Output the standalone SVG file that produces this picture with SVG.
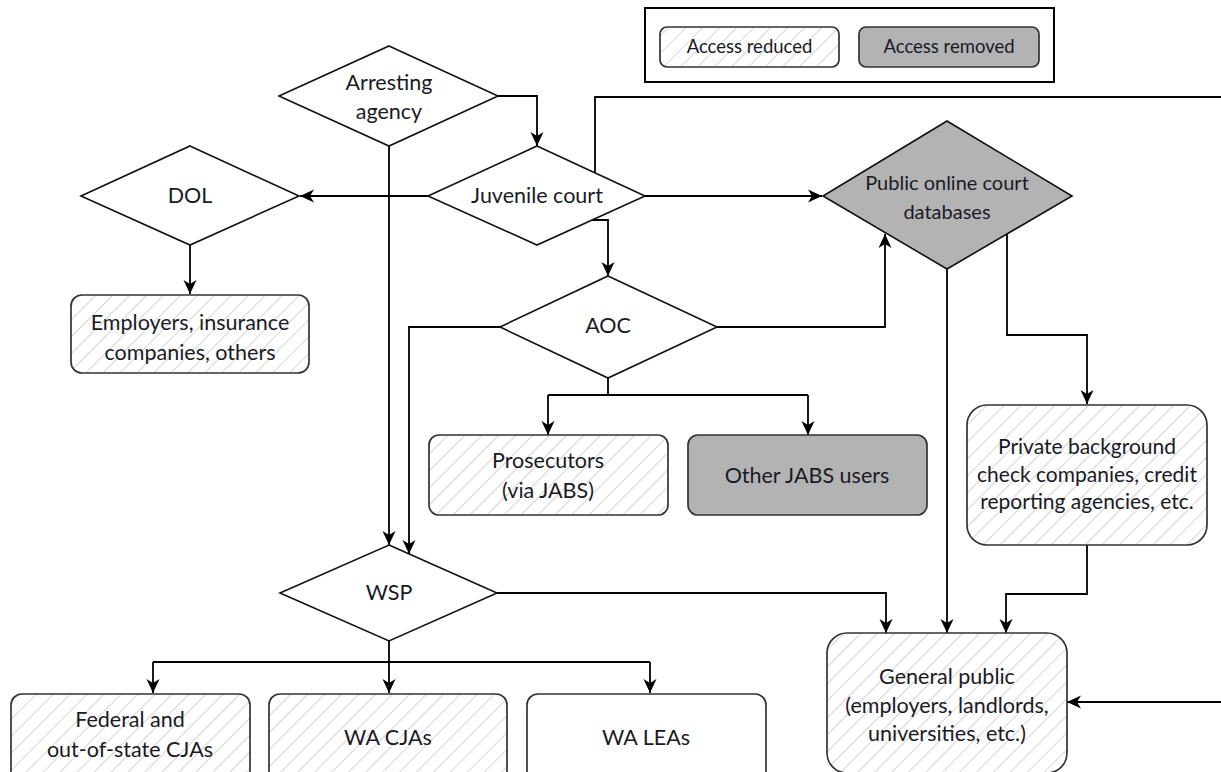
<svg xmlns="http://www.w3.org/2000/svg" width="1221" height="772" viewBox="0 0 1221 772">
<defs>
<pattern id="hatch" patternUnits="userSpaceOnUse" width="12" height="12" patternTransform="rotate(45)">
<rect width="12" height="12" fill="#fff"/>
<line x1="0" y1="0" x2="0" y2="12" stroke="#d6d6d6" stroke-width="2"/>
</pattern>
<marker id="arr" viewBox="0 0 14 14" refX="14" refY="7" markerWidth="14" markerHeight="14" orient="auto" markerUnits="userSpaceOnUse">
<path d="M0,0.5 L14,7 L0,13.5 L4,7 z" fill="#000"/>
</marker>
</defs>
<style>
text{font-family:Lato,"Liberation Sans",sans-serif;font-size:21.5px;fill:#1a1a26;text-anchor:middle}
.leg{font-size:18.5px}
.pub{font-size:20px}
.prv{font-size:21px}
.dia{fill:#fff;stroke:#111;stroke-width:1.6}
.dia.rem{fill:#b3b3b3}
.box{stroke:#333;stroke-width:1.7}
.red{fill:url(#hatch)}
.rmv{fill:#b3b3b3}
.plain{fill:#fff}
.c{fill:none;stroke:#000;stroke-width:1.8}
.a{marker-end:url(#arr)}
</style>
<rect width="1221" height="772" fill="#fff"/>

<g id="legend">
<rect x="645" y="8" width="409" height="74" fill="#fff" stroke="#000" stroke-width="2"/>
<rect x="660" y="27" width="179" height="40" rx="7" class="box red"/>
<text x="749.5" y="53" class="leg">Access reduced</text>
<rect x="859" y="27" width="180" height="40" rx="7" class="box rmv"/>
<text x="949" y="53" class="leg">Access removed</text>
</g>

<g id="connectors">
<path class="c a" d="M498,96 H537 V146"/>
<path class="c a" d="M389,146 V545"/>
<path class="c a" d="M428,196 H300"/>
<path class="c" d="M595,173 V97 H1221"/>
<path class="c a" d="M592,220 H608 V276"/>
<path class="c a" d="M645,196 H822"/>
<path class="c a" d="M190,245 V294"/>
<path class="c a" d="M500,327 H409 V554"/>
<path class="c a" d="M717,327 H885 V234"/>
<path class="c" d="M608,378 V395"/>
<path class="c" d="M548,395 H808"/>
<path class="c a" d="M548,395 V435"/>
<path class="c a" d="M808,395 V435"/>
<path class="c a" d="M947,269 V633"/>
<path class="c a" d="M1007,234 V335 H1087 V404"/>
<path class="c a" d="M1087,545 V594 H1006 V633"/>
<path class="c a" d="M497,593 H886 V633"/>
<path class="c" d="M389,641 V662"/>
<path class="c" d="M153,662 H650"/>
<path class="c a" d="M153,662 V693"/>
<path class="c a" d="M389,662 V693"/>
<path class="c a" d="M650,662 V693"/>
<path class="c a" d="M1221,702 H1067"/>
</g>

<g id="arresting-agency">
<polygon class="dia" points="389,46 498,96 389,146 279,96"/>
<text x="389" y="90">Arresting</text>
<text x="389" y="119">agency</text>
</g>

<g id="juvenile-court">
<polygon class="dia" points="537,146 645,196 537,245 428,196"/>
<text x="537" y="203">Juvenile court</text>
</g>

<g id="dol">
<polygon class="dia" points="190,146 299,196 190,245 81,196"/>
<text x="190" y="203">DOL</text>
</g>

<g id="employers">
<rect x="71" y="295" width="238" height="78" rx="11" class="box red"/>
<text x="190" y="330">Employers, insurance</text>
<text x="190" y="360">companies, others</text>
</g>

<g id="public-online">
<polygon class="dia rem" points="947,121 1072,196 947,269 823,196"/>
<text x="947" y="190" class="pub">Public online court</text>
<text x="947" y="219" class="pub">databases</text>
</g>

<g id="aoc">
<polygon class="dia" points="608,276 717,327 608,378 500,327"/>
<text x="608" y="333">AOC</text>
</g>

<g id="prosecutors">
<rect x="429" y="435" width="239" height="80" rx="10" class="box red"/>
<text x="548" y="468">Prosecutors</text>
<text x="548" y="498">(via JABS)</text>
</g>

<g id="other-jabs">
<rect x="688" y="435" width="239" height="80" rx="10" class="box rmv"/>
<text x="807" y="483">Other JABS users</text>
</g>

<g id="private-background">
<rect x="967" y="405" width="240" height="140" rx="20" class="box red"/>
<text x="1087" y="454" class="prv">Private background</text>
<text x="1087" y="482" class="prv">check companies, credit</text>
<text x="1087" y="509" class="prv">reporting agencies, etc.</text>
</g>

<g id="wsp">
<polygon class="dia" points="389,545 497,593 389,641 280,593"/>
<text x="389" y="600">WSP</text>
</g>

<g id="federal">
<rect x="11" y="694" width="239" height="90" rx="11" class="box red"/>
<text x="130" y="727">Federal and</text>
<text x="130" y="757">out-of-state CJAs</text>
</g>

<g id="wa-cjas">
<rect x="269" y="694" width="238" height="90" rx="11" class="box red"/>
<text x="388" y="745">WA CJAs</text>
</g>

<g id="wa-leas">
<rect x="527" y="694" width="239" height="90" rx="11" class="box plain"/>
<text x="646" y="745">WA LEAs</text>
</g>

<g id="general-public">
<rect x="827" y="633" width="240" height="140" rx="20" class="box red"/>
<text x="947" y="684">General public</text>
<text x="947" y="713">(employers, landlords,</text>
<text x="947" y="741">universities, etc.)</text>
</g>
</svg>
